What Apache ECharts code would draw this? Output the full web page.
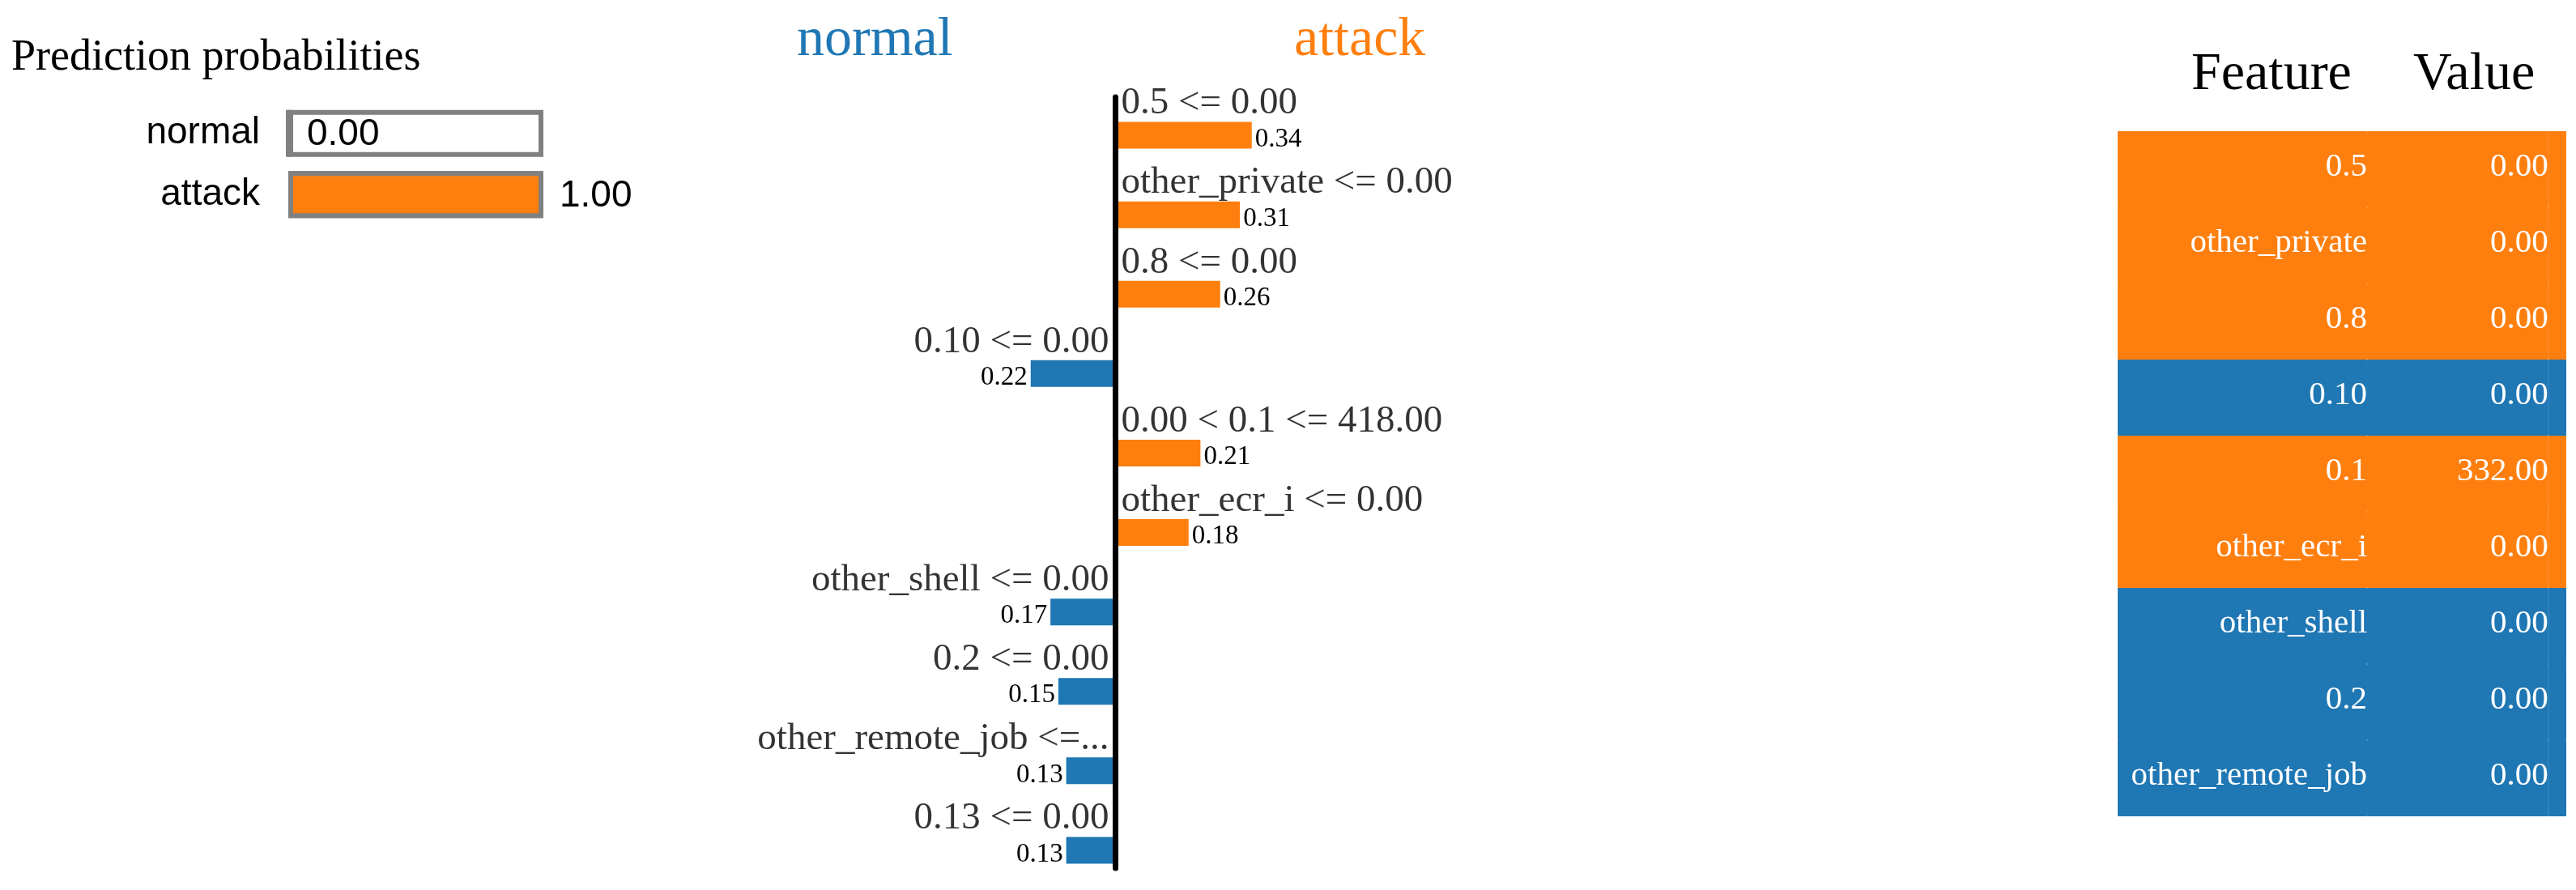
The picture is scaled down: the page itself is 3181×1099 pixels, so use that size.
<!DOCTYPE html>
<html><head><meta charset="utf-8">
<script src="https://cdn.jsdelivr.net/npm/echarts@6/dist/echarts.min.js"></script>
<style>html,body{margin:0;padding:0;background:#fff;}#c{width:3181px;height:1099px;}</style>
</head><body><div id="c"></div>
<script>
// ---- data ----
const probaClasses = ['normal', 'attack'];
const probaValues = [0.00, 1.00];
const featureLabels = ['0.5 <= 0.00', 'other_private <= 0.00', '0.8 <= 0.00', '0.10 <= 0.00',
  '0.00 < 0.1 <= 418.00', 'other_ecr_i <= 0.00', 'other_shell <= 0.00', '0.2 <= 0.00',
  'other_remote_job <=...', '0.13 <= 0.00'];
const featureWeights = [0.34, 0.31, 0.26, -0.22, 0.21, 0.18, -0.17, -0.15, -0.13, -0.13];
const tableFeatures = ['0.5', 'other_private', '0.8', '0.10', '0.1', 'other_ecr_i', 'other_shell', '0.2', 'other_remote_job'];
const tableValues = ['0.00', '0.00', '0.00', '0.00', '332.00', '0.00', '0.00', '0.00', '0.00'];

// ---- style ----
const ORANGE = '#ff7f0e', BLUE = '#1f77b4', GRAY = '#808080';
const probaColors = [BLUE, ORANGE];
const SERIF = "'Liberation Serif','Times New Roman',Times,serif";
const SANS = "'Liberation Sans',Arial,sans-serif";
const colorOf = w => (w > 0 ? ORANGE : BLUE);
const COL_NAME_END = 0.556, COL_VALUE_END = 0.960;

const chart = echarts.init(document.getElementById('c'), null, {renderer: 'canvas'});

const tableColor = i => colorOf(featureWeights[i]);
function tableSeg(width, textFn) {
  return {
    type: 'bar', xAxisIndex: 3, yAxisIndex: 3, stack: 'tbl', barCategoryGap: '0%', silent: true,
    data: tableFeatures.map((f, i) => ({value: width, itemStyle: {color: tableColor(i), borderColor: tableColor(i), borderWidth: 1}})),
    label: textFn ? {show: true, position: 'insideRight', distance: 0, offset: [0, -3], fontSize: 41,
      fontFamily: SERIF, color: '#fff', formatter: p => textFn(p.dataIndex)} : {show: false}
  };
}

const option = {
  animation: false,
  backgroundColor: '#fff',
  grid: [
    {left: 356, top: 127, width: 315, height: 151},
    {left: 1185, top: 118, width: 390, height: 987},
    {left: 1182, top: 120, width: 390, height: 952},
    {left: 2615, top: 162, width: 554, height: 846}
  ],
  xAxis: [
    {gridIndex: 0, type: 'value', min: 0, max: 1, show: false},
    {gridIndex: 1, type: 'value', min: -0.4, max: 0.4, show: false},
    {gridIndex: 2, type: 'value', min: -0.4, max: 0.4, show: false},
    {gridIndex: 3, type: 'value', min: 0, max: 1, show: false}
  ],
  yAxis: [
    {gridIndex: 0, type: 'category', data: probaClasses, inverse: true,
      axisLine: {show: false}, axisTick: {show: false}, splitLine: {show: false},
      axisLabel: {margin: 35, fontSize: 46, fontFamily: SANS, color: '#000'}},
    {gridIndex: 1, type: 'category', data: featureLabels, inverse: true, show: false},
    {gridIndex: 2, type: 'value', min: 0, max: 1, z: 10,
      axisLine: {show: true, onZero: true, lineStyle: {color: '#000', width: 7}},
      axisTick: {show: false}, axisLabel: {show: false}, splitLine: {show: false}},
    {gridIndex: 3, type: 'category', data: tableFeatures, inverse: true, show: false}
  ],
  series: [
    {type: 'bar', xAxisIndex: 0, yAxisIndex: 0, barWidth: 58, silent: true,
      data: probaClasses.map(() => 1),
      itemStyle: {color: '#fff', borderColor: GRAY, borderWidth: 6}},
    {type: 'bar', xAxisIndex: 0, yAxisIndex: 0, barWidth: 58, barGap: '-100%',
      data: probaValues.map((v, i) => ({value: v, itemStyle: {color: probaColors[i]}})),
      itemStyle: {borderColor: GRAY, borderWidth: 6},
      label: {show: true, position: 'right', distance: 20, offset: [0, 2], fontSize: 46,
        fontFamily: SANS, color: '#000', formatter: p => p.value.toFixed(2)}},
    {type: 'bar', xAxisIndex: 1, yAxisIndex: 1, barWidth: 33,
      data: featureWeights.map(w => ({value: w, itemStyle: {color: colorOf(w)},
        label: {position: w > 0 ? 'right' : 'left'}})),
      label: {show: true, distance: 4, offset: [0, 5], fontSize: 33, fontFamily: SERIF, color: '#000',
        formatter: p => Math.abs(p.value).toFixed(2)}},
    {type: 'scatter', xAxisIndex: 1, yAxisIndex: 1, symbolSize: 1, z: 5, silent: true,
      itemStyle: {color: 'rgba(0,0,0,0)'},
      data: featureWeights.map((w, i) => ({value: [0, i],
        label: {position: w > 0 ? 'right' : 'left', distance: w > 0 ? 4 : 10}})),
      label: {show: true, offset: [0, -39], fontSize: 47, fontFamily: SERIF, color: '#000',
        formatter: p => featureLabels[p.dataIndex]}},
    tableSeg(COL_NAME_END, i => tableFeatures[i]),
    tableSeg(COL_VALUE_END - COL_NAME_END, i => tableValues[i]),
    tableSeg(1 - COL_VALUE_END, null)
  ],
  graphic: [
    {type: 'text', x: 14, y: 72, style: {text: 'Prediction probabilities', fontSize: 54, fontFamily: SERIF, fill: '#000', align: 'left', verticalAlign: 'middle'}},
    {type: 'text', x: 984, y: 50, style: {text: 'normal', fontSize: 68, fontFamily: SERIF, fill: BLUE, align: 'left', verticalAlign: 'middle'}},
    {type: 'text', x: 1598, y: 50, style: {text: 'attack', fontSize: 68, fontFamily: SERIF, fill: ORANGE, align: 'left', verticalAlign: 'middle'}},
    {type: 'text', x: 2706, y: 93, style: {text: 'Feature', fontSize: 66, fontFamily: SERIF, fill: '#000', align: 'left', verticalAlign: 'middle'}},
    {type: 'text', x: 2980, y: 93, style: {text: 'Value', fontSize: 66, fontFamily: SERIF, fill: '#000', align: 'left', verticalAlign: 'middle'}}
  ]
};
chart.setOption(option);
</script></body></html>
